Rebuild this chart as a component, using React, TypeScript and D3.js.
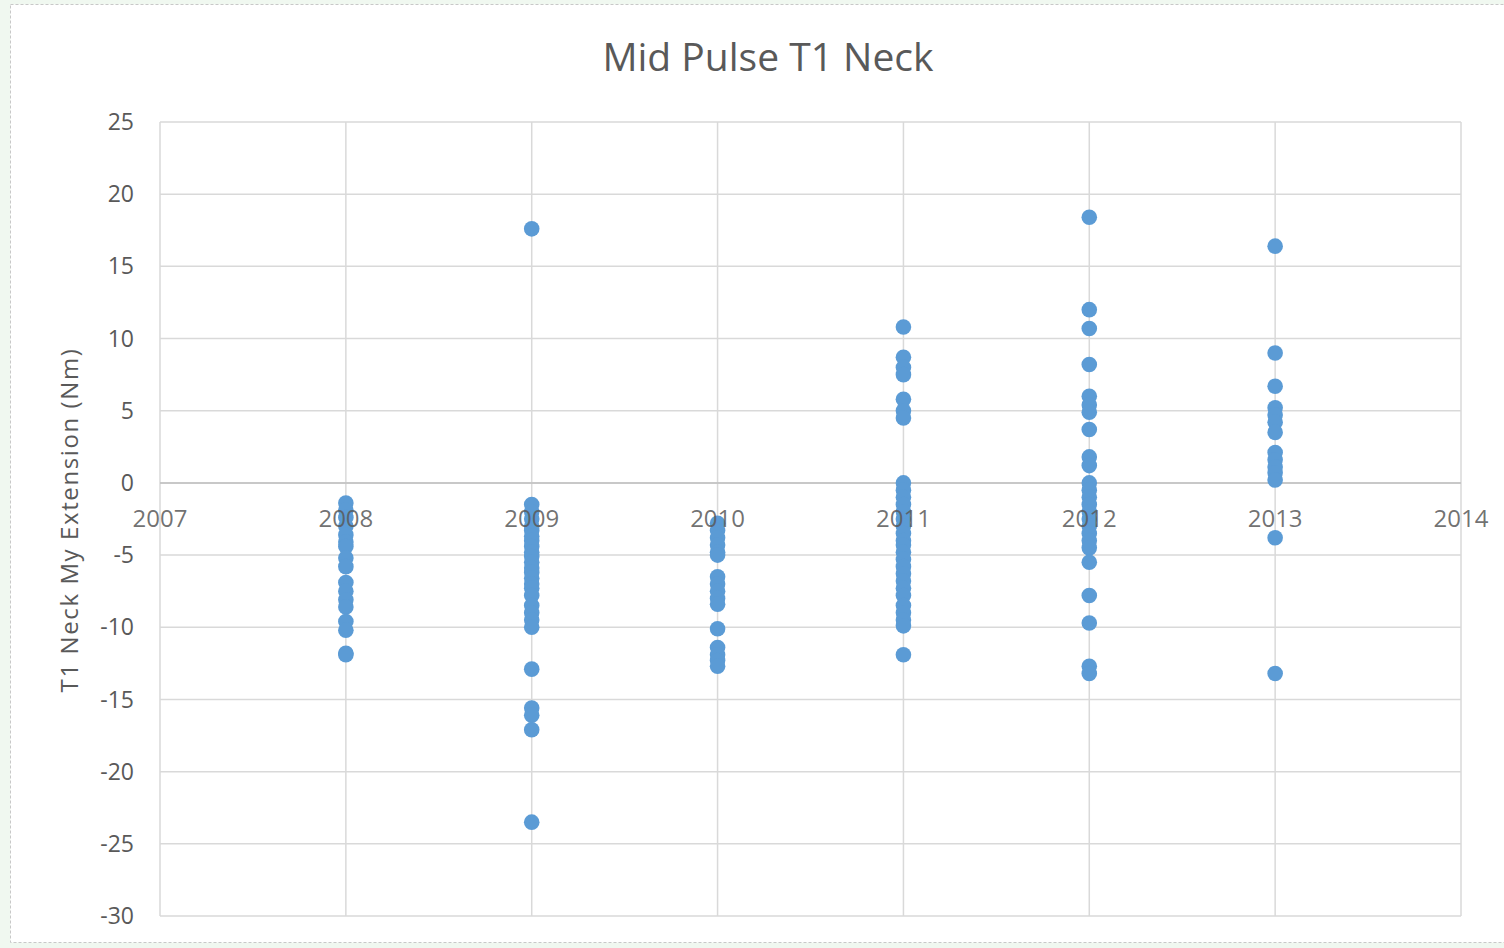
import React from "react";
import * as d3 from "d3";

const years = [2008, 2009, 2010, 2011, 2012, 2013];
const v2008 = [-1.4, -1.9, -2.4, -3.0, -3.6, -4.1, -4.4, -5.2, -5.8, -6.9, -7.5, -8.1, -8.6, -9.6, -10.2, -11.8, -11.9];
const v2009 = [17.6, -1.5, -2.0, -2.5, -3.0, -3.3, -3.7, -4.0, -4.4, -4.8, -5.1, -5.5, -5.9, -6.2, -6.6, -7.0, -7.3, -7.8, -8.5, -9.0, -9.5, -10.0, -12.9, -15.6, -16.1, -17.1, -23.5];
const v2010 = [-2.8, -3.3, -3.8, -4.3, -4.8, -5.0, -6.5, -7.0, -7.5, -8.0, -8.4, -10.1, -11.4, -11.9, -12.3, -12.7];
const v2011 = [10.8, 8.7, 8.0, 7.5, 5.8, 5.0, 4.5, 0, -0.5, -1.0, -1.5, -2.0, -2.5, -3.0, -3.5, -4.0, -4.3, -4.8, -5.3, -5.8, -6.3, -6.8, -7.3, -7.8, -8.5, -9.0, -9.5, -9.9, -11.9];
const v2012 = [18.4, 12.0, 10.7, 8.2, 6.0, 5.4, 4.9, 3.7, 1.8, 1.2, 0, -0.5, -1.0, -1.5, -2.0, -2.5, -3.0, -3.5, -4.0, -4.5, -5.5, -7.8, -9.7, -12.7, -13.2];
const v2013 = [16.4, 9.0, 6.7, 5.2, 4.7, 4.2, 3.5, 2.1, 1.6, 1.1, 0.7, 0.2, -3.8, -13.2];
const seriesValues = [v2008, v2009, v2010, v2011, v2012, v2013];

const xTicks = [2007, 2008, 2009, 2010, 2011, 2012, 2013, 2014];
const yTicks = [25, 20, 15, 10, 5, 0, -5, -10, -15, -20, -25, -30];

const title = "Mid Pulse T1 Neck";
const yTitle = "T1 Neck My Extension (Nm)";

export default function App() {
  const W = 1504, H = 948;
  const left = 160, right = 1461, top = 122, bottom = 916;
  const x = d3.scaleLinear().domain([2007, 2014]).range([left, right]);
  const y = d3.scaleLinear().domain([-30, 25]).range([bottom, top]);
  const font = "'Open Sans', 'Noto Sans', sans-serif";
  const points = years.flatMap((yr, i) => seriesValues[i].map((v) => ({ yr, v })));
  return (
    <svg width={W} height={H} style={{ position: "absolute", left: 0, top: 0 }}>
      <rect x={0} y={0} width={W} height={H} fill="#f0f8f0" />
      <rect x={10.5} y={4.5} width={W} height={938} fill="#ffffff" stroke="#c8c8c8" strokeDasharray="3,2" />
      {yTicks.map((t) => (
        <line key={"h" + t} x1={left} x2={right} y1={y(t)} y2={y(t)} stroke="#d9d9d9" strokeWidth={1.5} />
      ))}
      {xTicks.map((t) => (
        <line key={"v" + t} x1={x(t)} x2={x(t)} y1={top} y2={bottom} stroke="#d9d9d9" strokeWidth={1.5} />
      ))}
      <line x1={left} x2={right} y1={y(0)} y2={y(0)} stroke="#bfbfbf" strokeWidth={1.5} />
      {yTicks.map((t) => (
        <text key={"yl" + t} x={134} y={y(t)} dy="0.35em" textAnchor="end" fontFamily={font} fontSize={23} fill="#595959">
          {t}
        </text>
      ))}
      {points.map((p, i) => (
        <circle key={i} cx={x(p.yr)} cy={y(p.v)} r={7.8} fill="#5b9bd5" />
      ))}
      {xTicks.map((t) => (
        <text key={"xl" + t} x={x(t)} y={y(0) + 36} dy="0.35em" textAnchor="middle" fontFamily={font} fontSize={24} fill="#595959" fillOpacity={0.85}>
          {t}
        </text>
      ))}
      <text x={768} y={57} dy="0.35em" textAnchor="middle" fontFamily={font} fontSize={39} fill="#595959">
        {title}
      </text>
      <text transform={`translate(70,520) rotate(-90)`} dy="0.35em" textAnchor="middle" fontFamily={font} fontSize={24} letterSpacing={1.6} fill="#595959">
        {yTitle}
      </text>
    </svg>
  );
}
